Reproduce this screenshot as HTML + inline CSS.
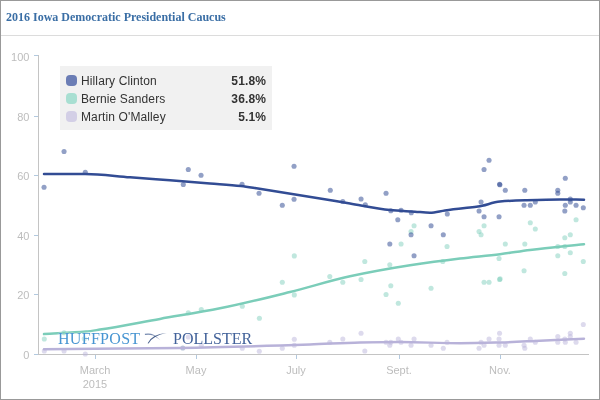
<!DOCTYPE html>
<html><head><meta charset="utf-8"><style>
html,body{margin:0;padding:0;}
body{width:600px;height:400px;position:relative;overflow:hidden;background:#fff;font-family:"Liberation Sans",sans-serif;}
#wrap{position:absolute;left:0;top:0;width:600px;height:400px;will-change:transform;}
#frame{position:absolute;left:0;top:0;width:600px;height:400px;box-sizing:border-box;border:1px solid #999;}
#title{position:absolute;left:6px;top:9px;font-family:"Liberation Serif",serif;font-weight:bold;font-size:12px;color:#3a6ea5;white-space:nowrap;line-height:16px;}
#sep{position:absolute;left:1px;top:35px;width:598px;height:1px;background:#dcdcdc;}
.yl{position:absolute;left:0;width:29.4px;text-align:right;font-size:11px;line-height:12px;color:#bdbdbd;}
.xl{position:absolute;width:80px;text-align:center;font-size:11px;line-height:12px;color:#bdbdbd;}
#legend{position:absolute;left:60px;top:66px;width:212px;height:64px;background:#f1f1f1;}
.lr{position:absolute;left:0;width:212px;height:18px;font-size:12px;line-height:14px;color:#333;letter-spacing:0.12px;}
.sw{position:absolute;left:6px;top:0.5px;width:11px;height:11px;border-radius:4px;}
.nm{position:absolute;left:21px;top:0;}
.pc{position:absolute;right:6px;top:0;font-weight:bold;}
.logo{position:absolute;font-family:"Liberation Serif",serif;font-size:16px;line-height:16px;white-space:nowrap;text-shadow:0 0 1px rgba(255,255,255,.9),0 0 2px rgba(255,255,255,.8);}
</style></head><body><div id="wrap">
<svg width="600" height="400" viewBox="0 0 600 400" style="position:absolute;left:0;top:0">
<rect x="38" y="55" width="1" height="300" fill="#c4c4c4"/>
<rect x="38" y="354" width="551" height="1" fill="#c4c4c4"/>
<rect x="34" y="55" width="4" height="1" fill="#b2c9df"/>
<rect x="34" y="116" width="4" height="1" fill="#b2c9df"/>
<rect x="34" y="175" width="4" height="1" fill="#b2c9df"/>
<rect x="34" y="235" width="4" height="1" fill="#b2c9df"/>
<rect x="34" y="294" width="4" height="1" fill="#b2c9df"/>
<rect x="34" y="354" width="4" height="1" fill="#b2c9df"/>
<rect x="95" y="355" width="1" height="4" fill="#b2c9df"/>
<rect x="196" y="355" width="1" height="4" fill="#b2c9df"/>
<rect x="296" y="355" width="1" height="4" fill="#b2c9df"/>
<rect x="399" y="355" width="1" height="4" fill="#b2c9df"/>
<rect x="500" y="355" width="1" height="4" fill="#b2c9df"/>
<g fill="#b8b2d9" fill-opacity="0.48"><circle cx="44.30" cy="351.05" r="2.55"/><circle cx="64.05" cy="351.05" r="2.55"/><circle cx="85.30" cy="354.05" r="2.55"/><circle cx="188.30" cy="336.90" r="2.55"/><circle cx="201.30" cy="345.30" r="2.55"/><circle cx="242.30" cy="348.30" r="2.55"/><circle cx="259.30" cy="351.30" r="2.55"/><circle cx="282.30" cy="348.30" r="2.55"/><circle cx="294.30" cy="339.30" r="2.55"/><circle cx="294.30" cy="345.30" r="2.55"/><circle cx="329.80" cy="342.30" r="2.55"/><circle cx="342.80" cy="339.05" r="2.55"/><circle cx="361.05" cy="333.30" r="2.55"/><circle cx="364.80" cy="351.05" r="2.55"/><circle cx="386.05" cy="342.30" r="2.55"/><circle cx="390.80" cy="342.30" r="2.55"/><circle cx="389.80" cy="345.30" r="2.55"/><circle cx="398.30" cy="339.05" r="2.55"/><circle cx="401.05" cy="342.30" r="2.55"/><circle cx="411.05" cy="345.30" r="2.55"/><circle cx="414.05" cy="339.05" r="2.55"/><circle cx="431.05" cy="345.30" r="2.55"/><circle cx="443.30" cy="348.30" r="2.55"/><circle cx="447.05" cy="342.30" r="2.55"/><circle cx="479.05" cy="348.30" r="2.55"/><circle cx="481.05" cy="342.30" r="2.55"/><circle cx="484.05" cy="345.30" r="2.55"/><circle cx="489.05" cy="339.05" r="2.55"/><circle cx="499.55" cy="333.30" r="2.55"/><circle cx="499.05" cy="339.05" r="2.55"/><circle cx="499.05" cy="345.30" r="2.55"/><circle cx="505.30" cy="345.30" r="2.55"/><circle cx="524.05" cy="345.30" r="2.55"/><circle cx="524.80" cy="348.30" r="2.55"/><circle cx="530.30" cy="339.05" r="2.55"/><circle cx="535.30" cy="342.30" r="2.55"/><circle cx="557.80" cy="336.55" r="2.55"/><circle cx="557.80" cy="342.30" r="2.55"/><circle cx="564.80" cy="339.05" r="2.55"/><circle cx="565.30" cy="342.30" r="2.55"/><circle cx="570.30" cy="333.30" r="2.55"/><circle cx="570.30" cy="336.55" r="2.55"/><circle cx="576.05" cy="342.30" r="2.55"/><circle cx="583.30" cy="324.55" r="2.55"/></g>
<circle cx="182.8" cy="348" r="2.55" fill="#bac6d9"/>
<g fill="#7bcdb9" fill-opacity="0.48"><circle cx="44.30" cy="339.05" r="2.55"/><circle cx="64.05" cy="332.80" r="2.55"/><circle cx="84.30" cy="338.80" r="2.55"/><circle cx="188.30" cy="312.70" r="2.55"/><circle cx="201.30" cy="309.50" r="2.55"/><circle cx="242.30" cy="306.30" r="2.55"/><circle cx="259.40" cy="318.30" r="2.55"/><circle cx="282.30" cy="282.30" r="2.55"/><circle cx="294.30" cy="255.90" r="2.55"/><circle cx="294.30" cy="294.90" r="2.55"/><circle cx="414.05" cy="225.80" r="2.55"/><circle cx="411.05" cy="231.55" r="2.55"/><circle cx="401.05" cy="244.05" r="2.55"/><circle cx="447.05" cy="246.55" r="2.55"/><circle cx="364.80" cy="261.55" r="2.55"/><circle cx="389.80" cy="264.80" r="2.55"/><circle cx="442.80" cy="261.55" r="2.55"/><circle cx="329.80" cy="276.55" r="2.55"/><circle cx="342.80" cy="282.30" r="2.55"/><circle cx="361.05" cy="279.55" r="2.55"/><circle cx="390.80" cy="285.80" r="2.55"/><circle cx="386.05" cy="294.55" r="2.55"/><circle cx="398.30" cy="303.30" r="2.55"/><circle cx="431.05" cy="288.30" r="2.55"/><circle cx="484.05" cy="225.80" r="2.55"/><circle cx="479.05" cy="231.55" r="2.55"/><circle cx="481.05" cy="234.80" r="2.55"/><circle cx="530.30" cy="222.80" r="2.55"/><circle cx="535.30" cy="229.05" r="2.55"/><circle cx="576.05" cy="219.80" r="2.55"/><circle cx="564.80" cy="237.80" r="2.55"/><circle cx="570.30" cy="234.80" r="2.55"/><circle cx="505.30" cy="244.05" r="2.55"/><circle cx="524.80" cy="244.05" r="2.55"/><circle cx="557.80" cy="246.55" r="2.55"/><circle cx="564.80" cy="246.55" r="2.55"/><circle cx="499.05" cy="258.55" r="2.55"/><circle cx="557.80" cy="255.80" r="2.55"/><circle cx="570.30" cy="252.80" r="2.55"/><circle cx="583.30" cy="261.55" r="2.55"/><circle cx="524.05" cy="270.80" r="2.55"/><circle cx="564.80" cy="273.55" r="2.55"/><circle cx="484.05" cy="282.30" r="2.55"/><circle cx="489.05" cy="282.30" r="2.55"/><circle cx="499.55" cy="279.55" r="2.55"/><circle cx="500.10" cy="278.90" r="2.55"/></g>
<g fill="#324c94" fill-opacity="0.53"><circle cx="44.05" cy="187.30" r="2.55"/><circle cx="64.05" cy="151.55" r="2.55"/><circle cx="85.30" cy="172.30" r="2.55"/><circle cx="183.30" cy="184.55" r="2.55"/><circle cx="188.30" cy="169.55" r="2.55"/><circle cx="201.05" cy="175.30" r="2.55"/><circle cx="242.05" cy="184.30" r="2.55"/><circle cx="259.05" cy="193.30" r="2.55"/><circle cx="282.30" cy="205.30" r="2.55"/><circle cx="294.05" cy="166.30" r="2.55"/><circle cx="294.05" cy="199.30" r="2.55"/><circle cx="330.30" cy="190.30" r="2.55"/><circle cx="342.80" cy="201.55" r="2.55"/><circle cx="361.05" cy="199.05" r="2.55"/><circle cx="365.30" cy="204.80" r="2.55"/><circle cx="386.05" cy="193.30" r="2.55"/><circle cx="390.80" cy="210.80" r="2.55"/><circle cx="401.05" cy="210.30" r="2.55"/><circle cx="397.80" cy="219.80" r="2.55"/><circle cx="411.30" cy="212.80" r="2.55"/><circle cx="411.05" cy="234.80" r="2.55"/><circle cx="431.05" cy="225.80" r="2.55"/><circle cx="443.30" cy="234.80" r="2.55"/><circle cx="447.30" cy="214.05" r="2.55"/><circle cx="389.80" cy="244.05" r="2.55"/><circle cx="414.05" cy="255.80" r="2.55"/><circle cx="489.05" cy="160.30" r="2.55"/><circle cx="484.05" cy="169.55" r="2.55"/><circle cx="499.55" cy="184.30" r="2.55"/><circle cx="499.90" cy="184.70" r="2.55"/><circle cx="505.30" cy="190.30" r="2.55"/><circle cx="481.05" cy="202.05" r="2.55"/><circle cx="479.05" cy="211.05" r="2.55"/><circle cx="484.05" cy="216.80" r="2.55"/><circle cx="499.05" cy="216.80" r="2.55"/><circle cx="524.80" cy="190.30" r="2.55"/><circle cx="524.05" cy="205.30" r="2.55"/><circle cx="530.30" cy="205.30" r="2.55"/><circle cx="535.30" cy="202.05" r="2.55"/><circle cx="557.80" cy="190.30" r="2.55"/><circle cx="557.80" cy="193.30" r="2.55"/><circle cx="565.30" cy="178.30" r="2.55"/><circle cx="570.30" cy="199.05" r="2.55"/><circle cx="570.30" cy="202.05" r="2.55"/><circle cx="565.30" cy="205.30" r="2.55"/><circle cx="564.80" cy="211.05" r="2.55"/><circle cx="576.05" cy="205.30" r="2.55"/><circle cx="583.30" cy="207.80" r="2.55"/></g>
<path d="M44.00 349.20 C89.33 348.77 134.67 348.54 180.00 347.90 C223.33 347.29 266.67 345.91 310.00 344.50 C326.67 343.96 343.33 342.81 360.00 342.50 C373.33 342.25 386.67 342.00 400.00 342.00 C420.00 342.00 440.00 343.25 460.00 343.25 C473.33 343.25 486.67 342.85 500.00 342.50 C513.33 342.15 526.67 341.34 540.00 340.75 C554.67 340.10 569.33 339.42 584.00 338.75" fill="none" stroke="#b8b2d9" stroke-width="2.5" stroke-linecap="round" stroke-linejoin="round"/>
<path d="M44.00 334.10 C58.00 333.27 72.00 332.86 86.00 331.60 C90.67 331.18 95.33 330.32 100.00 329.60 C120.00 326.50 140.00 322.45 160.00 318.90 C180.00 315.35 200.00 312.30 220.00 308.30 C243.33 303.63 266.67 297.76 290.00 292.00 C310.00 287.06 330.00 280.61 350.00 276.30 C370.00 271.99 390.00 268.41 410.00 265.30 C426.67 262.71 443.33 260.49 460.00 258.50 C473.33 256.91 486.67 255.83 500.00 254.20 C510.00 252.98 520.00 251.23 530.00 250.00 C548.00 247.78 566.00 246.13 584.00 244.20" fill="none" stroke="#7bcdb9" stroke-width="2.5" stroke-linecap="round" stroke-linejoin="round"/>
<path d="M44.00 174.00 C57.67 174.00 71.33 174.00 85.00 174.00 C100.00 174.00 115.00 176.21 130.00 177.30 C143.33 178.27 156.67 179.19 170.00 180.20 C183.33 181.21 196.67 182.31 210.00 183.40 C220.33 184.25 230.67 184.87 241.00 186.00 C246.67 186.62 252.33 187.64 258.00 188.50 C278.67 191.64 299.33 194.95 320.00 198.40 C330.00 200.07 340.00 201.92 350.00 203.60 C363.33 205.84 376.67 208.92 390.00 210.10 C398.33 210.84 406.67 211.15 415.00 211.70 C420.00 212.03 425.00 212.70 430.00 212.70 C435.00 212.70 440.00 211.08 445.00 210.40 C451.67 209.50 458.33 208.75 465.00 208.00 C469.33 207.51 473.67 207.21 478.00 206.60 C485.33 205.56 492.67 202.27 500.00 201.60 C508.33 200.84 516.67 200.48 525.00 200.20 C536.67 199.81 548.33 199.40 560.00 199.40 C568.00 199.40 576.00 199.60 584.00 199.70" fill="none" stroke="#324c94" stroke-width="2.5" stroke-linecap="round" stroke-linejoin="round"/>
<path d="M144.8 333.8 Q150 332.8 153.6 334.8 Q157 336.8 160.4 340.2 Q156.5 337.4 153.2 335.6 Q149.5 334.1 145 335 Z" fill="#4a6496" opacity="0.75"/>
<path d="M147.6 343.2 Q149.8 338.6 154.5 336 Q159.5 333.6 166.5 333.1 Q160 334.3 155.6 336.8 Q151 339.4 148.6 343.4 Z" fill="#2f4a7c" opacity="0.85"/>
</svg>
<div id="frame"></div>
<div id="title">2016 Iowa Democratic Presidential Caucus</div>
<div id="sep"></div>
<div class="yl" style="top:51.0px">100</div><div class="yl" style="top:110.6px">80</div><div class="yl" style="top:170.2px">60</div><div class="yl" style="top:229.8px">40</div><div class="yl" style="top:289.4px">20</div><div class="yl" style="top:349.0px">0</div>
<div class="xl" style="left:55px;top:363.8px">March</div><div class="xl" style="left:55px;top:378px">2015</div><div class="xl" style="left:156px;top:363.8px">May</div><div class="xl" style="left:256px;top:363.8px">July</div><div class="xl" style="left:359px;top:363.8px">Sept.</div><div class="xl" style="left:460px;top:363.8px">Nov.</div>
<div id="legend">
<div class="lr" style="top:8px"><div class="sw" style="background:#6b7db5"></div><div class="nm">Hillary Clinton</div><div class="pc">51.8%</div></div>
<div class="lr" style="top:26px"><div class="sw" style="background:#a8dfd2"></div><div class="nm">Bernie Sanders</div><div class="pc">36.8%</div></div>
<div class="lr" style="top:44px"><div class="sw" style="background:#d3cfe6"></div><div class="nm">Martin O'Malley</div><div class="pc">5.1%</div></div>
</div>
<div class="logo" style="left:58px;top:331px;color:#4795d2;letter-spacing:0.3px">HUFFPOST</div>
<div class="logo" style="left:173px;top:331px;color:#42629a">POLLSTER</div>
</div></body></html>
